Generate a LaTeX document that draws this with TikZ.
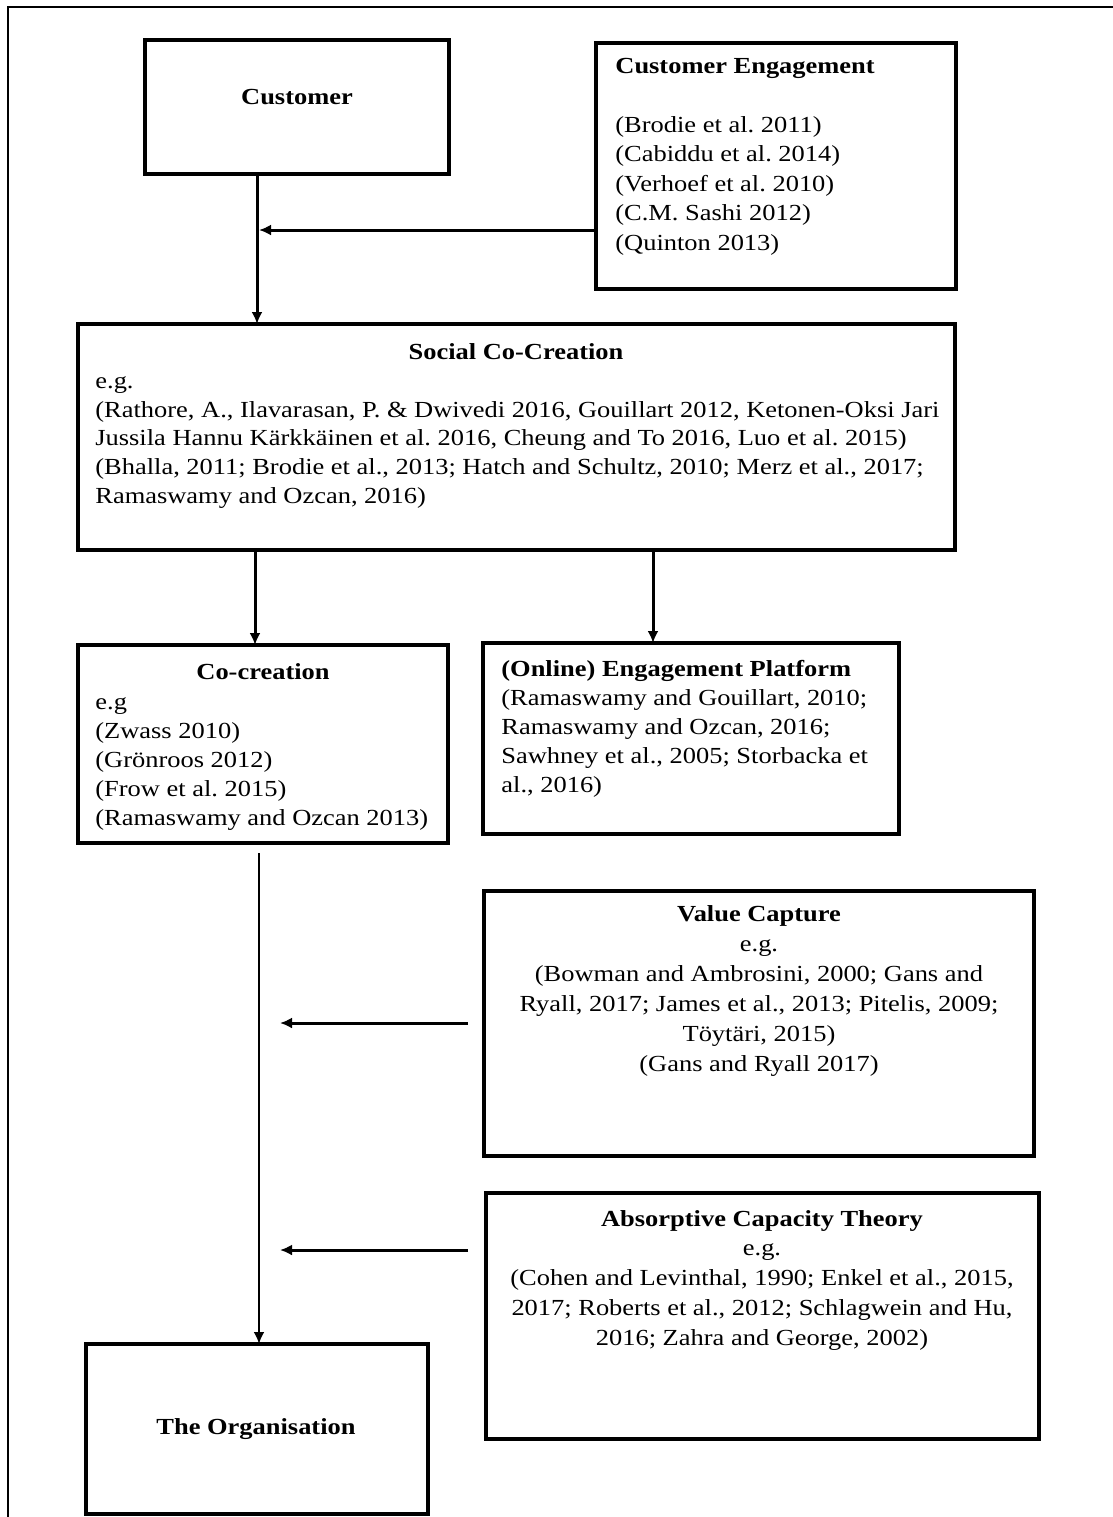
\documentclass[tikz,border=0pt]{standalone}
\usepackage{fontspec}
\setmainfont{Liberation Serif}[FakeStretch=1.15]
\usetikzlibrary{arrows.meta,fit}
\frenchspacing
\begin{document}
\begin{tikzpicture}[x=0.5pt,y=-0.5pt,
  box/.style={draw, line width=1.6pt, inner sep=0pt, outer sep=0pt, rectangle},
  frame/.style={line width=1pt},
  ttl/.style={inner sep=0pt, font=\fontsize{11.5}{14.6}\selectfont\bfseries},
  txt/.style={inner sep=0pt, font=\fontsize{11.5}{#1}\selectfont},
  txt/.default=14.6pt,
  arr/.style={line width=1.5pt, -{Latex[length=6pt,width=5.5pt]}},
  trunk/.style={line width=1.3pt, -{Latex[length=6pt,width=5.5pt]}},
]
\useasboundingbox (0,0) rectangle (1113,1517);
\fill[white] (0,0) rectangle (1113,1517);

% page frame (top and left edges)
\draw[frame] (8,1517) -- (8,7) -- (1113,7);

% boxes
\node[box, fit={(145,40)(449,174)}] (cust) {};
\node[box, fit={(596,43)(956,289)}] (ce) {};
\node[box, fit={(78,324)(955,550)}] (social) {};
\node[box, fit={(78,645)(448,843)}] (cocr) {};
\node[box, fit={(483,643)(899,834)}] (ep) {};
\node[box, fit={(484,891)(1034,1156)}] (vc) {};
\node[box, fit={(486,1193)(1039,1439)}] (ac) {};
\node[box, fit={(86,1344)(428,1514)}] (org) {};

% box texts
\node[ttl, anchor=base] (custT) at (297,104) {Customer};
\node[txt=14.75pt, align=left, anchor=north west] (ceT) at (615,52)
  {\strut\textbf{Customer Engagement}\\[14.75pt]
   (Brodie et al. 2011)\\
   (Cabiddu et al. 2014)\\
   (Verhoef et al. 2010)\\
   (C.M. Sashi 2012)\\
   (Quinton 2013)};
\node[ttl, anchor=base] (socialT) at (516,359) {Social Co-Creation};
\node[txt=14.35pt, align=left, anchor=north west] (socialB) at (95,368)
  {\strut e.g.\\
   (Rathore, A., Ilavarasan, P. \& Dwivedi 2016, Gouillart 2012, Ketonen-Oksi Jari\\
   Jussila Hannu Kärkkäinen et al. 2016, Cheung and To 2016, Luo et al. 2015)\\
   (Bhalla, 2011; Brodie et al., 2013; Hatch and Schultz, 2010; Merz et al., 2017;\\
   Ramaswamy and Ozcan, 2016)};
\node[ttl, anchor=base] (cocrT) at (263,679) {Co-creation};
\node[txt=14.5pt, align=left, anchor=north west] (cocrB) at (95,689)
  {\strut e.g\\
   (Zwass 2010)\\
   (Grönroos 2012)\\
   (Frow et al. 2015)\\
   (Ramaswamy and Ozcan 2013)};
\node[txt=14.5pt, align=left, anchor=north west] (epT) at (501,656)
  {\strut\textbf{(Online) Engagement Platform}\\
   (Ramaswamy and Gouillart, 2010;\\
   Ramaswamy and Ozcan, 2016;\\
   Sawhney et al., 2005; Storbacka et\\
   al., 2016)};
\node[txt=15pt, align=center, anchor=north] (vcT) at (759,900)
  {\strut\textbf{Value Capture}\\
   e.g.\\
   (Bowman and Ambrosini, 2000; Gans and\\
   Ryall, 2017; James et al., 2013; Pitelis, 2009;\\
   Töytäri, 2015)\\
   (Gans and Ryall 2017)};
\node[txt=14.85pt, align=center, anchor=north] (acT) at (762,1205)
  {\strut\textbf{Absorptive Capacity Theory}\\
   e.g.\\
   (Cohen and Levinthal, 1990; Enkel et al., 2015,\\
   2017; Roberts et al., 2012; Schlagwein and Hu,\\
   2016; Zahra and George, 2002)};
\node[ttl, anchor=base] (orgT) at (256,1434) {The Organisation};

% junction points of the connectors
\coordinate (colA) at (257,0);
\coordinate (colB) at (255,0);
\coordinate (colC) at (653,0);
\coordinate (ceJoin) at (259,230);
\coordinate (trunkTop) at (259,853);
\coordinate (vcTail) at (468,1023);
\coordinate (vcTip) at (280,1023);
\coordinate (acTail) at (468,1250);
\coordinate (acTip) at (280,1250);

% connectors
\draw[arr] (cust.south -| colA) -- (social.north -| colA);
\draw[arr] (ceJoin -| ce.west) -- (ceJoin);
\draw[arr] (social.south -| colB) -- (cocr.north -| colB);
\draw[arr] (social.south -| colC) -- (ep.north -| colC);
\draw[trunk] (trunkTop) -- (org.north -| trunkTop);
\draw[arr] (vcTail) -- (vcTip);
\draw[arr] (acTail) -- (acTip);
\end{tikzpicture}
\end{document}
